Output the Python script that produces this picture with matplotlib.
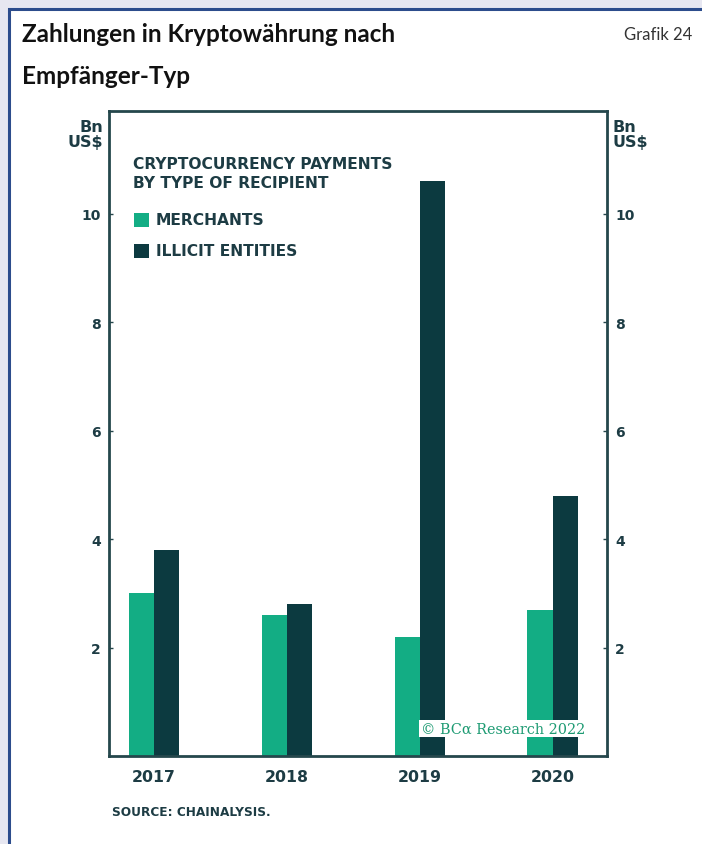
import matplotlib.pyplot as plt
from matplotlib.patches import Rectangle

# values in Bn US$
years = ['2017', '2018', '2019', '2020']
merchants = [3.0, 2.6, 2.2, 2.7]
illicit = [3.8, 2.8, 10.6, 4.8]
yticks = [2, 4, 6, 8, 10]

green = '#13ad84'
dark = '#0c3a40'
ink = '#1d3c44'

W, H = 702, 845
fig = plt.figure(figsize=(W / 100, H / 100), dpi=100)
fig.patch.set_facecolor('#e7e7f1')

# white card with blue frame
card = Rectangle((9 / W, -0.05), 1, 1.05 - 10 / H, transform=fig.transFigure,
                 facecolor='white', edgecolor='#2c4c8c', linewidth=2.2, zorder=-5)
fig.patches.append(card)

fig.text(22 / W, 1 - 42 / H, 'Zahlungen in Kryptowährung nach', fontsize=17.5,
         fontweight='bold', family='Lato', color='#111111', va='baseline')
fig.text(22 / W, 1 - 84 / H, 'Empfänger-Typ', fontsize=17.5,
         fontweight='bold', family='Lato', color='#111111', va='baseline')
fig.text(692 / W, 1 - 40 / H, 'Grafik 24', fontsize=12, family='Lato',
         color='#333333', ha='right', va='baseline')

ax = fig.add_axes([109 / W, 1 - 757 / H, (607 - 109) / W, (757 - 112) / H])
ax.set_zorder(2)
ax.patch.set_facecolor('white')
x = list(range(len(years)))
w = 0.19
ax.bar([i - w / 2 for i in x], merchants, w, color=green, zorder=2)
ax.bar([i + w / 2 for i in x], illicit, w, color=dark, zorder=2)

ax.set_xlim(-0.34, 3.41)
ax.set_ylim(0, 11.9)
ax.set_yticks(yticks)
ax.set_xticks(x)
ax.set_xticklabels(years)
for s in ax.spines.values():
    s.set_color('#25474c')
    s.set_linewidth(2)
ax.tick_params(axis='x', length=0, pad=9, labelsize=11.3, labelcolor=ink)
ax.tick_params(axis='y', direction='in', length=3, width=1, color='#25474c',
               labelsize=10, labelcolor=ink, pad=6, left=True, right=True,
               labelleft=True, labelright=True)
for lbl in ax.get_xticklabels() + ax.get_yticklabels():
    lbl.set_fontweight('bold')
    lbl.set_family('DejaVu Sans')

ax.text(-0.012, 0.987, 'Bn\nUS$', transform=ax.transAxes, ha='right', va='top',
        fontsize=11.5, fontweight='bold', color=ink, linespacing=1.0)
ax.text(1.012, 0.987, 'Bn\nUS$', transform=ax.transAxes, ha='left', va='top',
        fontsize=11.5, fontweight='bold', color=ink, linespacing=1.0)

# in-plot legend
lx = (133 - 109) / 498
ax.text(lx, 1 - (157 - 112) / 645, 'CRYPTOCURRENCY PAYMENTS\nBY TYPE OF RECIPIENT',
        transform=ax.transAxes, ha='left', va='top', fontsize=11.2, fontweight='bold',
        color=ink, linespacing=1.35)
for yy, col, name in [(221, green, 'MERCHANTS'), (252, dark, 'ILLICIT ENTITIES')]:
    ax.add_patch(Rectangle(((134 - 109) / 498, 1 - (yy + 7 - 112) / 645),
                           15 / 498, 14 / 645, transform=ax.transAxes,
                           facecolor=col, edgecolor='none'))
    ax.text((156 - 109) / 498, 1 - (yy - 112) / 645, name, transform=ax.transAxes,
            ha='left', va='center', fontsize=11.2, fontweight='bold', color=ink)

ax.text(0.956, 0.042, '© BCα Research 2022', transform=ax.transAxes, ha='right',
        va='center', fontsize=10.4, family='DejaVu Serif', color='#1c9a72',
        bbox=dict(facecolor='white', edgecolor='none', pad=1), zorder=5)

fig.text(112 / W, 1 - 813 / H, 'SOURCE: CHAINALYSIS.', fontsize=8.7, fontweight='bold',
         color=ink, va='center')

fig.savefig('out.png', dpi=100, facecolor=fig.get_facecolor())
